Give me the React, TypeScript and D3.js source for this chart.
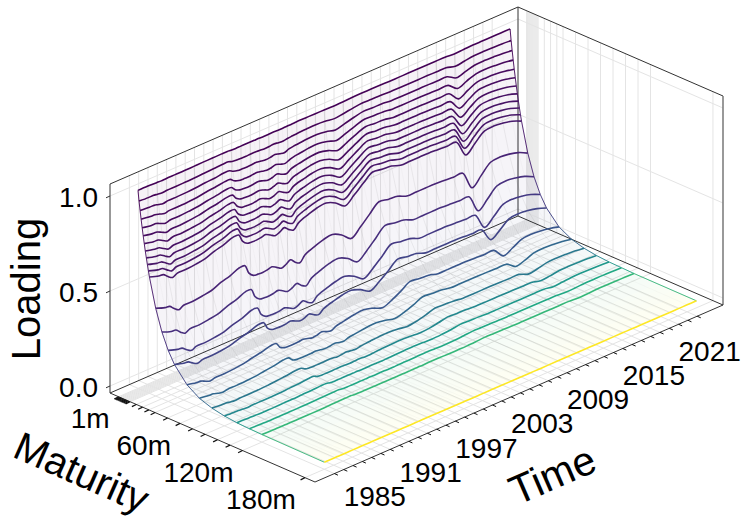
import React from "react";
import * as d3 from "d3";

const maturities = [1,2,3,4,5,6,7,8,9,10,11,12,18,24,30,36,48,60,72,84,96,108,120,180];
const maturityLabels = [[1,"1m"],[60,"60m"],[120,"120m"],[180,"180m"]] as [number,string][];
const zTicks = [0,0.5,1];
const zLabels = ["0.0","0.5","1.0"];
const tickYears = d3.range(1982,2022);
const labelYears = [1985,1991,1997,2003,2009,2015,2021];

const y1982=[1.005,.951,.904,.860,.818,.778,.739,.703,.669,.636,.605,.575,.425,.314,.232,.172,.094,.051,.028,.015,.008,.005,.003,0];
const y1983=[1.005,.948,.900,.853,.809,.768,.728,.691,.655,.621,.589,.559,.407,.296,.216,.157,.083,.044,.023,.012,.007,.003,.002,0];
const y1983h=[1.004,.948,.899,.852,.808,.766,.726,.688,.652,.618,.586,.556,.403,.293,.212,.154,.081,.043,.023,.012,.006,.003,.002,0];
const y1984=[1.003,.945,.893,.845,.798,.754,.713,.673,.636,.602,.568,.535,.381,.271,.193,.137,.070,.035,.018,.009,.005,.002,.001,0];
const y1984h=[1.002,.942,.888,.837,.789,.743,.700,.660,.622,.586,.552,.520,.364,.255,.179,.125,.061,.030,.015,.007,.004,.002,.001,0];
const y1985=[1.003,.944,.892,.842,.795,.750,.709,.669,.632,.596,.563,.532,.377,.267,.189,.134,.067,.034,.017,.009,.004,.002,.001,0];
const y1986=[1.003,.944,.892,.842,.795,.750,.709,.669,.632,.596,.563,.532,.377,.267,.189,.134,.067,.034,.017,.009,.004,.002,.001,0];
const y1987=[1.003,.945,.893,.844,.798,.754,.713,.673,.636,.602,.568,.537,.383,.273,.194,.138,.070,.036,.018,.009,.005,.002,.001,0];
const y1988=[1.004,.946,.896,.847,.802,.759,.718,.679,.643,.608,.576,.545,.391,.281,.202,.145,.075,.039,.020,.010,.005,.003,.001,0];
const y1989=[1.005,.949,.901,.855,.811,.770,.731,.694,.659,.625,.593,.563,.412,.301,.220,.161,.086,.046,.025,.013,.007,.004,.002,0];
const y1990=[1.005,.951,.904,.860,.818,.778,.740,.704,.669,.636,.605,.576,.426,.315,.233,.173,.095,.052,.028,.015,.008,.005,.003,0];
const y1991=[1.006,.954,.910,.867,.827,.789,.753,.718,.684,.653,.623,.594,.447,.336,.253,.190,.108,.061,.035,.020,.011,.006,.004,0];
const y1991h=[1.006,.954,.909,.866,.826,.788,.752,.717,.683,.652,.622,.592,.445,.334,.251,.188,.107,.060,.034,.020,.011,.006,.004,0];
const y1992=[1.004,.947,.898,.850,.806,.763,.723,.685,.649,.615,.583,.552,.399,.289,.209,.151,.079,.041,.022,.011,.006,.003,.002,0];
const y1992h=[1.003,.944,.891,.841,.794,.749,.707,.668,.630,.595,.561,.530,.375,.265,.188,.133,.066,.033,.017,.008,.004,.002,.001,0];
const y1993=[1.003,.943,.890,.839,.792,.747,.705,.665,.627,.592,.558,.526,.371,.261,.184,.130,.064,.032,.016,.008,.004,.002,.001,0];
const y1993h=[1.003,.943,.889,.838,.791,.746,.703,.664,.626,.590,.557,.525,.369,.260,.183,.129,.064,.032,.016,.008,.004,.002,.001,0];
const y1994=[1.003,.944,.890,.840,.793,.748,.706,.666,.629,.593,.560,.528,.372,.263,.185,.131,.065,.032,.016,.008,.004,.002,.001,0];
const y1994h=[1.003,.944,.892,.842,.796,.751,.710,.670,.633,.598,.564,.533,.378,.268,.190,.135,.068,.034,.017,.009,.004,.002,.001,0];
const y1995=[1.003,.942,.888,.837,.789,.743,.700,.660,.622,.586,.552,.520,.364,.255,.179,.125,.061,.030,.015,.007,.004,.002,.001,0];
const y1995h=[1.002,.940,.884,.831,.781,.734,.690,.649,.610,.573,.539,.506,.349,.241,.166,.115,.055,.026,.012,.006,.003,.001,.001,0];
const y1996=[1.002,.941,.886,.834,.785,.739,.696,.655,.616,.580,.546,.514,.358,.249,.173,.120,.058,.028,.014,.007,.003,.002,.001,0];
const y1996h=[1.003,.944,.890,.840,.793,.747,.705,.665,.628,.592,.559,.527,.372,.262,.185,.130,.065,.032,.016,.008,.004,.002,.001,0];
const y1997=[1.002,.940,.884,.831,.781,.734,.690,.649,.610,.573,.539,.506,.349,.241,.166,.115,.055,.026,.012,.006,.003,.001,.001,0];
const y1997h=[1.002,.938,.879,.825,.773,.725,.680,.638,.598,.561,.526,.493,.335,.228,.155,.105,.049,.022,.010,.005,.002,.001,0,0];
const y1998=[1.003,.942,.888,.836,.788,.742,.699,.659,.620,.585,.551,.519,.363,.254,.178,.124,.061,.030,.015,.007,.003,.002,.001,0];
const y1998h=[1.003,.944,.892,.842,.795,.750,.709,.669,.632,.596,.563,.532,.377,.267,.189,.134,.067,.034,.017,.009,.004,.002,.001,0];
const y1999=[1.004,.946,.894,.845,.799,.756,.714,.676,.639,.604,.571,.540,.386,.276,.197,.141,.072,.037,.019,.010,.005,.002,.001,0];
const y2000=[1.004,.948,.899,.852,.808,.766,.726,.688,.652,.618,.586,.556,.403,.293,.212,.154,.081,.043,.023,.012,.006,.003,.002,0];
const y2001=[1.004,.949,.900,.854,.811,.769,.730,.693,.657,.624,.592,.561,.410,.299,.218,.159,.085,.045,.024,.013,.007,.004,.002,0];
const y2002=[1.003,.946,.894,.845,.799,.756,.714,.676,.639,.604,.571,.540,.386,.276,.197,.141,.072,.037,.019,.010,.005,.002,.001,0];
const y2003=[1.002,.939,.882,.829,.779,.732,.687,.646,.607,.570,.535,.503,.346,.238,.163,.112,.053,.025,.012,.006,.003,.001,.001,0];
const y2004=[1.003,.945,.894,.845,.799,.755,.714,.675,.638,.603,.570,.539,.385,.274,.196,.140,.071,.036,.018,.009,.005,.002,.001,0];
const y2005=[1.005,.952,.906,.862,.821,.781,.744,.708,.673,.641,.610,.581,.432,.321,.239,.177,.098,.054,.030,.017,.009,.005,.003,0];
const y2006=[1.006,.957,.916,.877,.840,.804,.770,.737,.705,.675,.646,.618,.476,.366,.282,.217,.128,.076,.045,.027,.016,.009,.006,0];
const y2007=[1.006,.956,.914,.874,.836,.799,.764,.731,.699,.668,.639,.611,.467,.357,.273,.208,.122,.071,.042,.024,.014,.008,.005,0];
const y2008=[1.006,.956,.913,.873,.834,.797,.762,.728,.696,.665,.635,.607,.462,.352,.268,.204,.118,.069,.040,.023,.013,.008,.005,0];
const y2009=[1.005,.953,.908,.866,.825,.787,.750,.715,.681,.649,.619,.590,.442,.332,.249,.186,.105,.059,.033,.019,.010,.006,.003,0];
const y2010=[1.005,.953,.908,.866,.825,.787,.750,.715,.681,.649,.619,.590,.442,.332,.249,.186,.105,.059,.033,.019,.010,.006,.003,0];
const y2011=[1.005,.953,.908,.866,.825,.787,.750,.715,.681,.649,.619,.590,.442,.332,.249,.186,.105,.059,.033,.019,.010,.006,.003,0];
const y2012=[1.005,.953,.908,.866,.825,.787,.750,.715,.681,.649,.619,.590,.442,.332,.249,.186,.105,.059,.033,.019,.010,.006,.003,0];
const y2013=[1.005,.953,.908,.865,.824,.785,.748,.713,.679,.647,.616,.587,.439,.329,.246,.184,.103,.058,.032,.018,.010,.006,.003,0];
const y2014=[1.005,.952,.907,.864,.822,.783,.746,.710,.676,.644,.613,.584,.435,.325,.242,.180,.100,.056,.031,.017,.010,.005,.003,0];
const y2015=[1.005,.952,.907,.864,.822,.783,.746,.710,.676,.644,.613,.584,.435,.325,.242,.180,.100,.056,.031,.017,.010,.005,.003,0];
const y2016=[1.001,.938,.880,.826,.774,.727,.682,.640,.600,.563,.528,.495,.337,.230,.157,.107,.050,.023,.011,.005,.002,.001,0,0];
const y2017=[1.003,.945,.893,.844,.797,.753,.712,.673,.635,.600,.567,.536,.381,.271,.193,.137,.070,.035,.018,.009,.005,.002,.001,0];
const y2018=[1.005,.951,.905,.861,.820,.780,.742,.706,.671,.639,.608,.578,.429,.318,.236,.175,.096,.053,.029,.016,.009,.005,.003,0];
const y2019=[1.005,.952,.907,.864,.822,.783,.746,.710,.676,.644,.613,.584,.435,.325,.242,.180,.100,.056,.031,.017,.010,.005,.003,0];
const y2020=[1.005,.951,.905,.861,.820,.780,.742,.706,.671,.639,.608,.578,.429,.318,.236,.175,.096,.053,.029,.016,.009,.005,.003,0];
const y2021=[1.005,.950,.902,.857,.813,.773,.734,.697,.662,.629,.597,.567,.416,.305,.224,.164,.088,.048,.026,.014,.007,.004,.002,0];
const y2022=[1.005,.946,.896,.848,.802,.760,.719,.680,.644,.610,.577,.546,.392,.282,.203,.146,.075,.039,.020,.010,.005,.003,.001,0];

const dataYears = [1982,1983,1983.5,1984,1984.5,1985,1986,1987,1988,1989,1990,1991,1991.6,1992,1992.5,1993,1993.5,1994,1994.5,1995,1995.5,1996,1996.5,1997,1997.5,1998,1998.5,1999,2000,2001,2002,2003,2004,2005,2006,2007,2008,2009,2010,2011,2012,2013,2014,2015,2016,2017,2018,2019,2020,2021,2022];
const loadings = [y1982,y1983,y1983h,y1984,y1984h,y1985,y1986,y1987,y1988,y1989,y1990,y1991,y1991h,y1992,y1992h,y1993,y1993h,y1994,y1994h,y1995,y1995h,y1996,y1996h,y1997,y1997h,y1998,y1998h,y1999,y2000,y2001,y2002,y2003,y2004,y2005,y2006,y2007,y2008,y2009,y2010,y2011,y2012,y2013,y2014,y2015,y2016,y2017,y2018,y2019,y2020,y2021,y2022];

const FONT = "'Liberation Sans', Arial, sans-serif";
const GRID = "#e4e4e4";
const AXIS = "#333";

const aScale = d3.scaleLinear().domain([1,180]).range([0.042,0.951]);
const bScale = d3.scaleLinear().domain([1982,2022]).range([0.0475,0.9595]);
const zScale = d3.scaleLinear().domain([0,1]).range([7,197]);
const colorOf = (m:number)=>d3.interpolateViridis(m/180);

// oblique box projection: a = along maturity, b = along time, h = pixels above floor
function P(a:number,b:number,h:number):[number,number]{
  return [110+205*a+408*b, 393+89*a-177*b-h];
}
const path = (pts:[number,number][])=>d3.line()(pts) as string;
const smooth = (pts:[number,number][])=>d3.line().curve(d3.curveCatmullRom.alpha(0.5))(pts) as string;
const BOX = 209;

export default function App(){
  const seg = (p:[number,number],q:[number,number],stroke=AXIS,w=1,key?:string)=>
    <line key={key} x1={p[0]} y1={p[1]} x2={q[0]} y2={q[1]} stroke={stroke} strokeWidth={w}/>;
  const grid:React.ReactNode[]=[];
  tickYears.forEach(y=>{
    const b=bScale(y);
    grid.push(seg(P(0,b,0),P(0,b,BOX),GRID,1,"wt"+y));
    grid.push(seg(P(0,b,0),P(1,b,0),GRID,1,"ft"+y));
  });
  maturities.forEach(m=>{
    const a=aScale(m);
    grid.push(seg(P(a,0,0),P(a,1,0),GRID,1,"fm"+m));
    grid.push(seg(P(a,1,0),P(a,1,BOX),GRID,1,"wm"+m));
  });
  zTicks.forEach(z=>{
    const h=zScale(z);
    grid.push(seg(P(0,0,h),P(0,1,h),GRID,1,"zl"+z));
    grid.push(seg(P(0,1,h),P(1,1,h),GRID,1,"zr"+z));
  });
  const quads:React.ReactNode[]=[];
  for(let t=0;t<dataYears.length-1;t++){
    const b0=bScale(dataYears[t]),b1=bScale(dataYears[t+1]);
    for(let i=0;i<maturities.length-1;i++){
      const m0=maturities[i],m1=maturities[i+1];
      const steps=Math.max(1,Math.round((m1-m0)/8));
      for(let s=0;s<steps;s++){
        const f0=s/steps,f1=(s+1)/steps;
        const a0=aScale(m0+(m1-m0)*f0),a1=aScale(m0+(m1-m0)*f1);
        const h=(tt:number,f:number)=>zScale(loadings[tt][i]+(loadings[tt][i+1]-loadings[tt][i])*f);
        const d=path([P(a0,b0,h(t,f0)),P(a1,b0,h(t,f1)),P(a1,b1,h(t+1,f1)),P(a0,b1,h(t+1,f0))]);
        quads.push(<path key={t+"-"+i+"-"+s} d={d+"Z"} fill={colorOf(m0+(m1-m0)*(f0+f1)/2)} fillOpacity={0.05} shapeRendering="crispEdges"/>);
      }
    }
  }
  const mesh = dataYears.map((y,t)=>(
    <path key={y} d={path(maturities.map((m,i)=>P(aScale(m),bScale(y),zScale(loadings[t][i]))))} fill="none" stroke="#555" strokeOpacity={y%2===0?0.15:0.05} strokeWidth={0.6}/>
  ));
  const edges:React.ReactNode[]=[];
  [0,dataYears.length-1].forEach(t=>{
    for(let i=0;i<maturities.length-1;i++){
      edges.push(<path key={"e"+t+i} d={path([
        P(aScale(maturities[i]),bScale(dataYears[t]),zScale(loadings[t][i])),
        P(aScale(maturities[i+1]),bScale(dataYears[t]),zScale(loadings[t][i+1]))])}
        fill="none" stroke={colorOf(maturities[i])} strokeWidth={0.9}/>);
    }
  });
  const lines = maturities.map((m,i)=>(
    <path key={m} d={smooth(dataYears.map((y,t)=>P(aScale(m),bScale(y),zScale(loadings[t][i]))))} fill="none" stroke={colorOf(m)} strokeWidth={1.6} strokeLinejoin="round"/>
  ));
  return (
    <svg width={741} height={519} style={{position:"absolute",left:0,top:0,background:"#fff"}}>
      <g>{grid}</g>
      {seg(P(0,0,BOX),P(0,1,BOX))}
      {seg(P(0,1,BOX),P(1,1,BOX))}
      {seg(P(0,0,0),P(0,0,BOX))}
      {seg(P(0,1,0),P(0,1,BOX))}
      {seg(P(1,1,0),P(1,1,BOX),"#777",1.5)}
      {seg(P(0,0,0),P(0,1,0))}
      {seg(P(0,1,0),P(1,1,0))}
      <g>{quads}</g>
      <g>{mesh}</g>
      <g>{edges}</g>
      <g>{lines}</g>
      {seg(P(0,0,0),P(1,0,0))}
      {seg(P(1,0,0),P(1,1,0))}
      {tickYears.map(y=>{const p=P(1,bScale(y),0);return seg(p,[p[0]+3.6,p[1]+1.6],"#111",1,"tt"+y);})}
      {maturities.map(m=>{const p=P(aScale(m),0,0);return seg(p,[p[0]-4.4,p[1]+2.2],"#111",1.2,"tm"+m);})}
      {zTicks.map(z=>{const p=P(0,0,zScale(z));return seg(p,[p[0]-4,p[1]+1.8],AXIS,1,"tz"+z);})}
      <g fontFamily={FONT} fontSize={28} fill="#000">
        {zTicks.map((z,i)=>{const p=P(0,0,zScale(z));return <text key={z} x={p[0]-12} y={p[1]+11} textAnchor="end">{zLabels[i]}</text>;})}
        {maturityLabels.map(([m,s])=>{const p=P(aScale(m),0,0);return <text key={s} x={p[0]-9} y={p[1]+31.5} textAnchor="end">{s}</text>;})}
        {labelYears.map(y=>{const p=P(1,bScale(y),0);return <text key={y} x={p[0]+12.5} y={p[1]+44.5} textAnchor="middle">{y}</text>;})}
      </g>
      <g fontFamily={FONT} fill="#000" textAnchor="middle">
        <text fontSize={40} transform="translate(40,289) rotate(-90)">Loading</text>
        <text fontSize={40} transform="translate(76,485) rotate(23.8)">Maturity</text>
        <text fontSize={41} transform="translate(558,488) rotate(-23.5)">Time</text>
      </g>
    </svg>
  );
}
